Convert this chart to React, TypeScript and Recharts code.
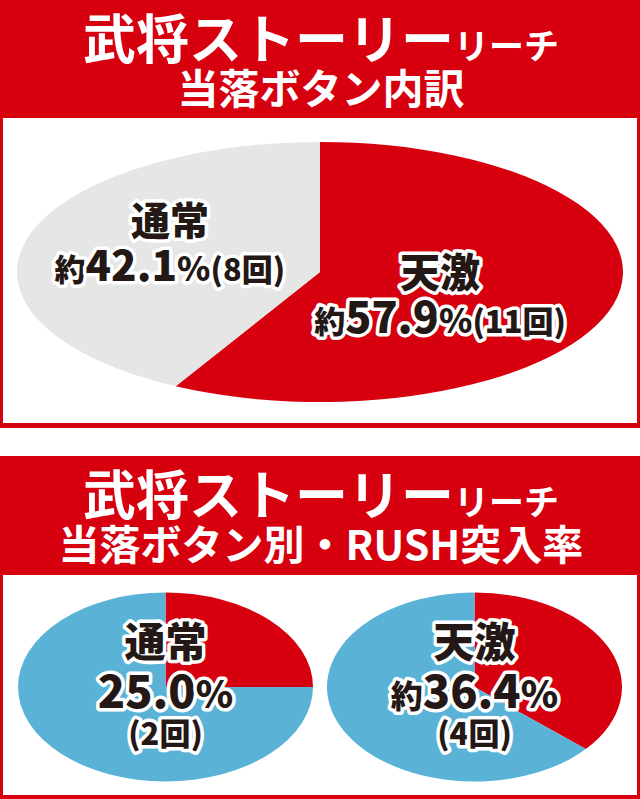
import React from 'react';
import { PieChart, Pie, Cell } from 'recharts';

// ---- data ----
const breakdownNames = ['天激', '通常'];
const breakdownPercents = [57.9, 42.1];
const breakdownCounts = [11, 8];

const rushButtons = ['通常', '天激'];
const rushPercents = [25.0, 36.4];
const rushCounts = [2, 4];
const rushApprox = [false, true];

const titleMain = '武将ストーリー';
const titleSub = 'リーチ';
const topSubtitle = '当落ボタン内訳';
const bottomSubtitle = '当落ボタン別・RUSH突入率';

// ---- styles ----
const RED = '#d7000f';
const GRAY = '#e6e6e6';
const BLUE = '#5ab3d6';
const INK = '#231815';
const FONT = "'Noto Sans CJK JP', 'Noto Sans', sans-serif";

const breakdownColors = [RED, GRAY];
const rushColors = [RED, BLUE];

const TOP_X_SCALE = 303 / 130;
const BOTTOM_X_SCALE = 147.5 / 94.5;

// label layout for the top pie (per slice)
const breakdownLabelLayout = [
  { dx: -15, dy: 23, nameSize: 40, numSize: 43, smallSize: 31 },
  { dx: -15, dy: 1, nameSize: 39, numSize: 42, smallSize: 31 },
];

const RAD = Math.PI / 180;

const makeEllipseShape = (xScale: number) => (props: any) => {
  const { cx, cy, outerRadius, startAngle, endAngle, fill } = props;
  const ry = outerRadius;
  const rx = outerRadius * xScale;
  const span = Math.abs(endAngle - startAngle);
  if (span >= 359.99) {
    return <ellipse cx={cx} cy={cy} rx={rx} ry={ry} fill={fill} />;
  }
  const x1 = cx + rx * Math.cos(-startAngle * RAD);
  const y1 = cy + ry * Math.sin(-startAngle * RAD);
  const x2 = cx + rx * Math.cos(-endAngle * RAD);
  const y2 = cy + ry * Math.sin(-endAngle * RAD);
  const large = span > 180 ? 1 : 0;
  const sweep = endAngle < startAngle ? 1 : 0;
  const d = `M${cx},${cy} L${x1},${y1} A${rx},${ry} 0 ${large} ${sweep} ${x2},${y2} Z`;
  return <path d={d} fill={fill} stroke="none" />;
};

const topShape = makeEllipseShape(TOP_X_SCALE);
const bottomShape = makeEllipseShape(BOTTOM_X_SCALE);

const outline = {
  stroke: '#ffffff',
  strokeWidth: 7,
  strokeLinejoin: 'round' as const,
  paintOrder: 'stroke' as const,
  fill: INK,
  fontFamily: FONT,
  fontWeight: 900,
};

const breakdownData = breakdownNames.map((name, i) => ({
  name,
  value: breakdownPercents[i],
  count: breakdownCounts[i],
}));

const renderBreakdownLabel = (props: any) => {
  const { cx, cy, midAngle, outerRadius, index } = props;
  const lay = breakdownLabelLayout[index];
  const f = 0.46;
  const x = cx + outerRadius * TOP_X_SCALE * f * Math.cos(-midAngle * RAD) + lay.dx;
  const y = cy + outerRadius * f * Math.sin(-midAngle * RAD) + lay.dy;
  return (
    <g key={`bl-${index}`}>
      <text x={x} y={y - 23} textAnchor="middle" fontSize={lay.nameSize} {...outline}>
        {breakdownNames[index]}
      </text>
      <text x={x} y={y + 23} textAnchor="middle" {...outline}>
        <tspan fontSize={lay.smallSize}>約</tspan>
        <tspan fontSize={lay.numSize}>{breakdownPercents[index].toFixed(1)}</tspan>
        <tspan fontSize={lay.smallSize + 3}>%</tspan>
        <tspan fontSize={lay.smallSize}>({breakdownCounts[index]}回)</tspan>
      </text>
    </g>
  );
};

const rushData = rushButtons.map((name, i) => [
  { name: 'RUSH', value: rushPercents[i] },
  { name: 'その他', value: 100 - rushPercents[i] },
]);

const makeRushLabel = (i: number) => (props: any) => {
  const { cx, cy, index } = props;
  if (index !== 0) return <g key={`rl-${i}-${index}`} />;
  return (
    <g key={`rl-${i}`}>
      <text x={cx} y={cy - 30} textAnchor="middle" fontSize={41} {...outline}>
        {rushButtons[i]}
      </text>
      <text x={cx} y={cy + 21} textAnchor="middle" {...outline}>
        {rushApprox[i] ? <tspan fontSize={32}>約</tspan> : null}
        <tspan fontSize={45}>{rushPercents[i].toFixed(1)}</tspan>
        <tspan fontSize={38}>%</tspan>
      </text>
      <text x={cx} y={cy + 58} textAnchor="middle" fontSize={31} {...outline}>
        ({rushCounts[i]}回)
      </text>
    </g>
  );
};

const Header = ({ sub, top, height }: { sub: string; top: number; height: number }) => (
  <svg
    width={640}
    height={height}
    style={{ position: 'absolute', left: 0, top, display: 'block' }}
  >
    <text
      x={321}
      y={59}
      textAnchor="middle"
      fill="#ffffff"
      fontFamily={FONT}
      fontWeight={700}
    >
      <tspan fontSize={53}>{titleMain}</tspan>
      <tspan fontSize={35}>{titleSub}</tspan>
    </text>
    <text
      x={321}
      y={104}
      textAnchor="middle"
      fill="#ffffff"
      fontFamily={FONT}
      fontWeight={700}
      fontSize={41}
    >
      {sub}
    </text>
  </svg>
);

export default function App() {
  return (
    <div style={{ position: 'relative', width: 640, height: 799, background: '#ffffff', overflow: 'hidden' }}>
      <style>{`body{margin:0;background:#fff;}`}</style>

      {/* Panel 1 */}
      <div style={{ position: 'absolute', left: 0, top: 0, width: 640, height: 428, background: RED }} />
      <div style={{ position: 'absolute', left: 3, top: 118, width: 634, height: 305, background: '#ffffff' }} />
      <Header sub={topSubtitle} top={0} height={118} />
      <div style={{ position: 'absolute', left: 3, top: 118 }}>
        <PieChart width={634} height={305} margin={{ top: 0, right: 0, bottom: 0, left: 0 }}>
          <Pie
            data={breakdownData}
            dataKey="value"
            nameKey="name"
            cx={317}
            cy={154}
            outerRadius={130}
            startAngle={90}
            endAngle={-270}
            stroke="none"
            isAnimationActive={false}
            shape={topShape}
            activeShape={topShape}
            inactiveShape={topShape}
            label={renderBreakdownLabel}
            labelLine={false}
          >
            {breakdownData.map((d, i) => (
              <Cell key={d.name} fill={breakdownColors[i]} />
            ))}
          </Pie>
        </PieChart>
      </div>

      {/* Panel 2 */}
      <div style={{ position: 'absolute', left: 0, top: 456, width: 640, height: 343, background: RED }} />
      <div style={{ position: 'absolute', left: 3, top: 575, width: 634, height: 220, background: '#ffffff' }} />
      <Header sub={bottomSubtitle} top={456} height={119} />
      <div style={{ position: 'absolute', left: 3, top: 575 }}>
        <PieChart width={634} height={220} margin={{ top: 0, right: 0, bottom: 0, left: 0 }}>
          {rushData.map((data, i) => (
            <Pie
              key={rushButtons[i]}
              data={data}
              dataKey="value"
              nameKey="name"
              cx={i === 0 ? 162.5 : 471.5}
              cy={112}
              outerRadius={94.5}
              startAngle={90}
              endAngle={-270}
              stroke="none"
              isAnimationActive={false}
              shape={bottomShape}
              activeShape={bottomShape}
              inactiveShape={bottomShape}
              label={makeRushLabel(i)}
              labelLine={false}
            >
              {data.map((d, j) => (
                <Cell key={d.name} fill={rushColors[j]} />
              ))}
            </Pie>
          ))}
        </PieChart>
      </div>
    </div>
  );
}
